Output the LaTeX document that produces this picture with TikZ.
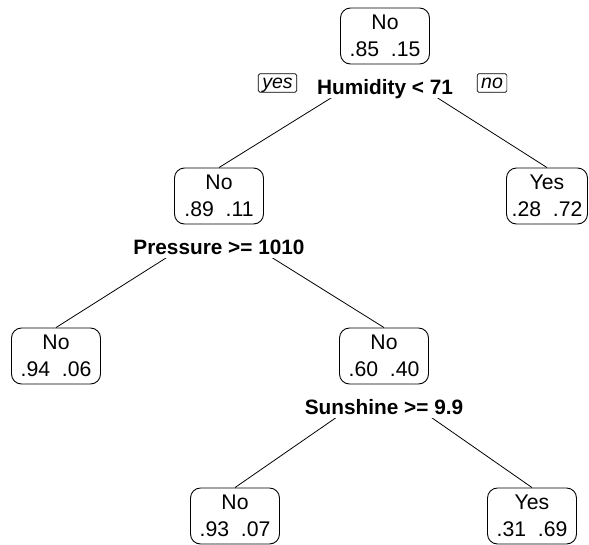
\documentclass[tikz,border=0pt]{standalone}
\usepackage{fontspec}
\setmainfont{Liberation Sans}
\tikzset{
  tbox/.style={draw, rounded corners=10pt, line width=0.9pt, align=center,
    minimum width=89pt, minimum height=56pt, inner sep=0pt,
    font=\fontsize{21.2}{27}\selectfont},
  split/.style={fill=white, anchor=north, inner xsep=2pt, inner ysep=0pt,
    text height=30pt, text depth=3pt, font=\fontsize{20.8}{25}\selectfont\bfseries},
  yesno/.style={draw, rounded corners=1.5pt, line width=0.7pt, inner xsep=4pt,
    inner ysep=0.5pt, text height=14pt, text depth=3.5pt,
    font=\fontsize{19.5}{20}\selectfont\itshape},
  branch/.style={line width=0.8pt, shorten <=2pt}
}
\newcommand{\probs}[2]{#1\hspace{0.556em}#2}

\begin{document}
\begin{tikzpicture}[x=1pt, y=-1pt]
  \useasboundingbox (0,0) rectangle (589,544);

  \node[tbox] (root) at (385, 36) {No\\\probs{.85}{.15}};
  \node[tbox] (hum no) at (219, 196) {No\\\probs{.89}{.11}};
  \node[tbox, minimum width=81pt] (hum yes) at (547, 196) {Yes\\\probs{.28}{.72}};
  \node[tbox] (pres no) at (56, 356) {No\\\probs{.94}{.06}};
  \node[tbox] (pres yes) at (384, 356) {No\\\probs{.60}{.40}};
  \node[tbox] (sun no) at (235, 516) {No\\\probs{.93}{.07}};
  \node[tbox] (sun yes) at (532, 516) {Yes\\\probs{.31}{.69}};

  \draw[branch] (root.south) -- (hum no.north);
  \draw[branch] (root.south) -- (hum yes.north);
  \draw[branch] (hum no.south) -- (pres no.north);
  \draw[branch] (hum no.south) -- (pres yes.north);
  \draw[branch] (pres yes.south) -- (sun no.north);
  \draw[branch] (pres yes.south) -- (sun yes.north);

  % split labels hide the top part of the branches
  \node[split] (hum) at (root.south) {Humidity < 71};
  \node[split] (pres) at (hum no.south) {Pressure >= 1010};
  \node[split] (sun) at (pres yes.south) {Sunshine >= 9.9};

  \node[yesno] (yes) at (277.5, 83) {yes};
  \node[yesno] (no) at (492, 83) {no};
\end{tikzpicture}
\end{document}
